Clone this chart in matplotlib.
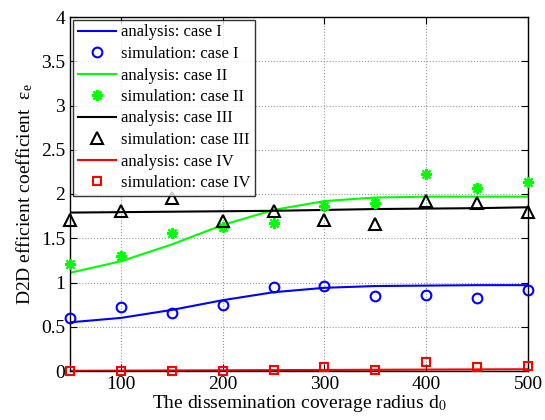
import matplotlib
matplotlib.use("Agg")
import matplotlib.pyplot as plt

x = [50, 100, 150, 200, 250, 300, 350, 400, 450, 500]

ana_I = [0.55, 0.60, 0.69, 0.80, 0.89, 0.94, 0.96, 0.965, 0.97, 0.97]
sim_I = [0.60, 0.72, 0.66, 0.75, 0.95, 0.965, 0.85, 0.86, 0.83, 0.91]
ana_II = [1.11, 1.24, 1.43, 1.65, 1.82, 1.92, 1.96, 1.97, 1.97, 1.97]
sim_II = [1.21, 1.30, 1.56, 1.63, 1.67, 1.87, 1.90, 2.23, 2.07, 2.13]
ana_III = [1.79, 1.795, 1.80, 1.805, 1.81, 1.82, 1.83, 1.835, 1.84, 1.85]
sim_III = [1.71, 1.81, 1.95, 1.70, 1.81, 1.71, 1.66, 1.92, 1.90, 1.80]
ana_IV = [0.002, 0.004, 0.006, 0.008, 0.01, 0.012, 0.014, 0.016, 0.018, 0.02]
sim_IV = [0.0, 0.0, 0.0, 0.0, 0.01, 0.04, 0.01, 0.10, 0.045, 0.06]

labels = ["analysis: case I", "simulation: case I",
          "analysis: case II", "simulation: case II",
          "analysis: case III", "simulation: case III",
          "analysis: case IV", "simulation: case IV"]

xticks = [100, 200, 300, 400, 500]
yticks = [0, 0.5, 1, 1.5, 2, 2.5, 3, 3.5, 4]
ytick_labels = ["0", "0.5", "1", "1.5", "2", "2.5", "3", "3.5", "4"]

plt.rcParams['font.family'] = ['Liberation Serif', 'DejaVu Serif']
plt.rcParams['mathtext.fontset'] = 'stix'

fig = plt.figure(figsize=(5.45, 4.20), dpi=100)
ax = fig.add_axes([70/545, 1 - 371/420, 458/545, 354/420])

blue, green, black, red = '#0000ff', '#00ff00', '#000000', '#ff0000'
kw = dict(clip_on=False, zorder=5)
ax.plot(x, ana_I, color=blue, lw=1.5, label=labels[0])
ax.plot(x, sim_I, 'o', color=blue, mfc='none', mew=1.5, ms=7, label=labels[1], **kw)
ax.plot(x, ana_II, color=green, lw=1.5, label=labels[2])
ax.plot(x, sim_II, marker=(8, 2, 0), ls='none', color=green, mew=1.5, ms=8, label=labels[3], **kw)
ax.plot(x, ana_III, color=black, lw=1.5, label=labels[4])
ax.plot(x, sim_III, '^', color=black, mfc='none', mew=1.5, ms=8, label=labels[5], **kw)
ax.plot(x, ana_IV, color=red, lw=1.5, label=labels[6])
ax.plot(x, sim_IV, 's', color=red, mfc='none', mew=1.5, ms=5.5, label=labels[7], **kw)

ax.set_xlim(50, 500)
ax.set_ylim(0, 4)
ax.set_xticks(xticks)
ax.set_yticks(yticks)
ax.set_yticklabels(ytick_labels)
ax.tick_params(direction='in', top=True, right=True, labelsize=14, length=5)
ax.grid(True, linestyle=':', color='#999999', lw=0.8)
for s in ax.spines.values():
    s.set_linewidth(1.0)

ax.set_xlabel(r"The dissemination coverage radius d$_0$", fontsize=14, labelpad=0)
ax.set_ylabel(r"D2D efficient coefficient  $\mathregular{\varepsilon_e}$", fontsize=14, labelpad=4)

leg = ax.legend(loc='upper left', fontsize=12, frameon=True, fancybox=False,
                edgecolor='black', borderaxespad=0.15, handlelength=2.3,
                labelspacing=0.33, borderpad=0.3, handletextpad=0.3)
leg.get_frame().set_linewidth(1.0)
leg.set_zorder(10)

fig.savefig("out.png", dpi=100)
